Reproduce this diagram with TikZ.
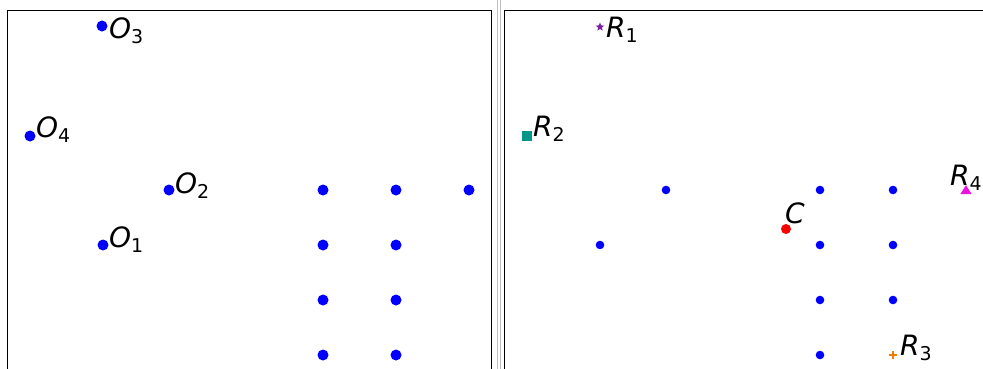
\documentclass[tikz,border=0pt]{standalone}
\usepackage{fontspec}
\setmainfont{DejaVu Sans}
\usetikzlibrary{shapes.geometric}
\definecolor{mblue}{RGB}{0,0,255}
\definecolor{mpurple}{RGB}{123,31,162}
\definecolor{mteal}{RGB}{0,150,136}
\definecolor{mmag}{RGB}{236,18,222}
\definecolor{morange}{RGB}{245,124,0}
\newcommand\mylab[2]{{\fontsize{28}{28}\selectfont\itshape #1}{\fontsize{19}{19}\selectfont\raisebox{-5pt}{#2}}}
\tikzset{
  bigdot/.style={circle,fill=mblue,inner sep=0pt,minimum size=11pt},
  smalldot/.style={circle,fill=mblue,inner sep=0pt,minimum size=8.6pt},
  lbl/.style={anchor=base west,inner sep=0pt,text=black},
  frame/.style={line width=0.9pt,black},
  sep/.style={line width=0.9pt,black!25}
}
\begin{document}
\begin{tikzpicture}[x=1pt,y=-1pt]
\useasboundingbox (0,0) rectangle (983,368);
% frames
\draw[frame] (7,370) -- (7,10) -- (491,10) -- (491,370);
\draw[sep] (497,-2) -- (497,370);
\draw[sep] (500,-2) -- (500,370);
\draw[frame] (504,370) -- (504,10) -- (985,10);
% left panel
\node[bigdot] (o3) at (102,26) {};
\node[bigdot] (o4) at (30,136) {};
\node[bigdot] (o2) at (169,190) {};
\node[bigdot] (o1) at (103,245) {};
\node[lbl] (lo3) at (109,38) {\mylab{O}{3}};
\node[lbl] (lo4) at (36,137) {\mylab{O}{4}};
\node[lbl] (lo2) at (175,193) {\mylab{O}{2}};
\node[lbl] (lo1) at (109,247) {\mylab{O}{1}};
\node[bigdot] (g11) at (323,190) {};
\node[bigdot] (g12) at (396,190) {};
\node[bigdot] (g13) at (469,190) {};
\node[bigdot] (g21) at (323,245) {};
\node[bigdot] (g22) at (396,245) {};
\node[bigdot] (g31) at (323,300) {};
\node[bigdot] (g32) at (396,300) {};
\node[bigdot] (g41) at (323,355) {};
\node[bigdot] (g42) at (396,355) {};
% right panel
\node[star,star points=5,star point ratio=2.3,fill=mpurple,inner sep=0pt,minimum size=9pt] (r1) at (600,27) {};
\node[lbl] (lr1) at (606,37) {\mylab{R}{1}};
\node[rectangle,fill=mteal,inner sep=0pt,minimum size=9.5pt] (r2) at (527,136) {};
\node[lbl] (lr2) at (533,136) {\mylab{R}{2}};
\node[smalldot] (h1) at (666,190) {};
\node[smalldot] (h2) at (600,245) {};
\node[circle,fill=red,inner sep=0pt,minimum size=10pt] (c) at (786,229) {};
\node[lbl] (lc) at (785,223) {{\fontsize{28}{28}\selectfont\itshape C}};
\node[smalldot] (k11) at (820,190) {};
\node[smalldot] (k12) at (893,190) {};
\node[smalldot] (k21) at (820,245) {};
\node[smalldot] (k22) at (893,245) {};
\node[smalldot] (k31) at (820,300) {};
\node[smalldot] (k32) at (893,300) {};
\node[smalldot] (k41) at (820,355) {};
\node[lbl] (lr4) at (950,185) {\mylab{R}{4}};
\node[isosceles triangle,isosceles triangle apex angle=65,shape border rotate=90,fill=mmag,inner sep=0pt,minimum height=9pt,minimum width=11pt] (r4) at (966,191) {};
\node[inner sep=0pt] (r3) at (893,355) {};
\draw[morange,line width=1.6pt] ([xshift=-4pt]r3.center) -- ([xshift=4pt]r3.center);
\draw[morange,line width=1.6pt] ([yshift=-4pt]r3.center) -- ([yshift=4pt]r3.center);
\node[lbl] (lr3) at (900,355) {\mylab{R}{3}};
\end{tikzpicture}
\end{document}
